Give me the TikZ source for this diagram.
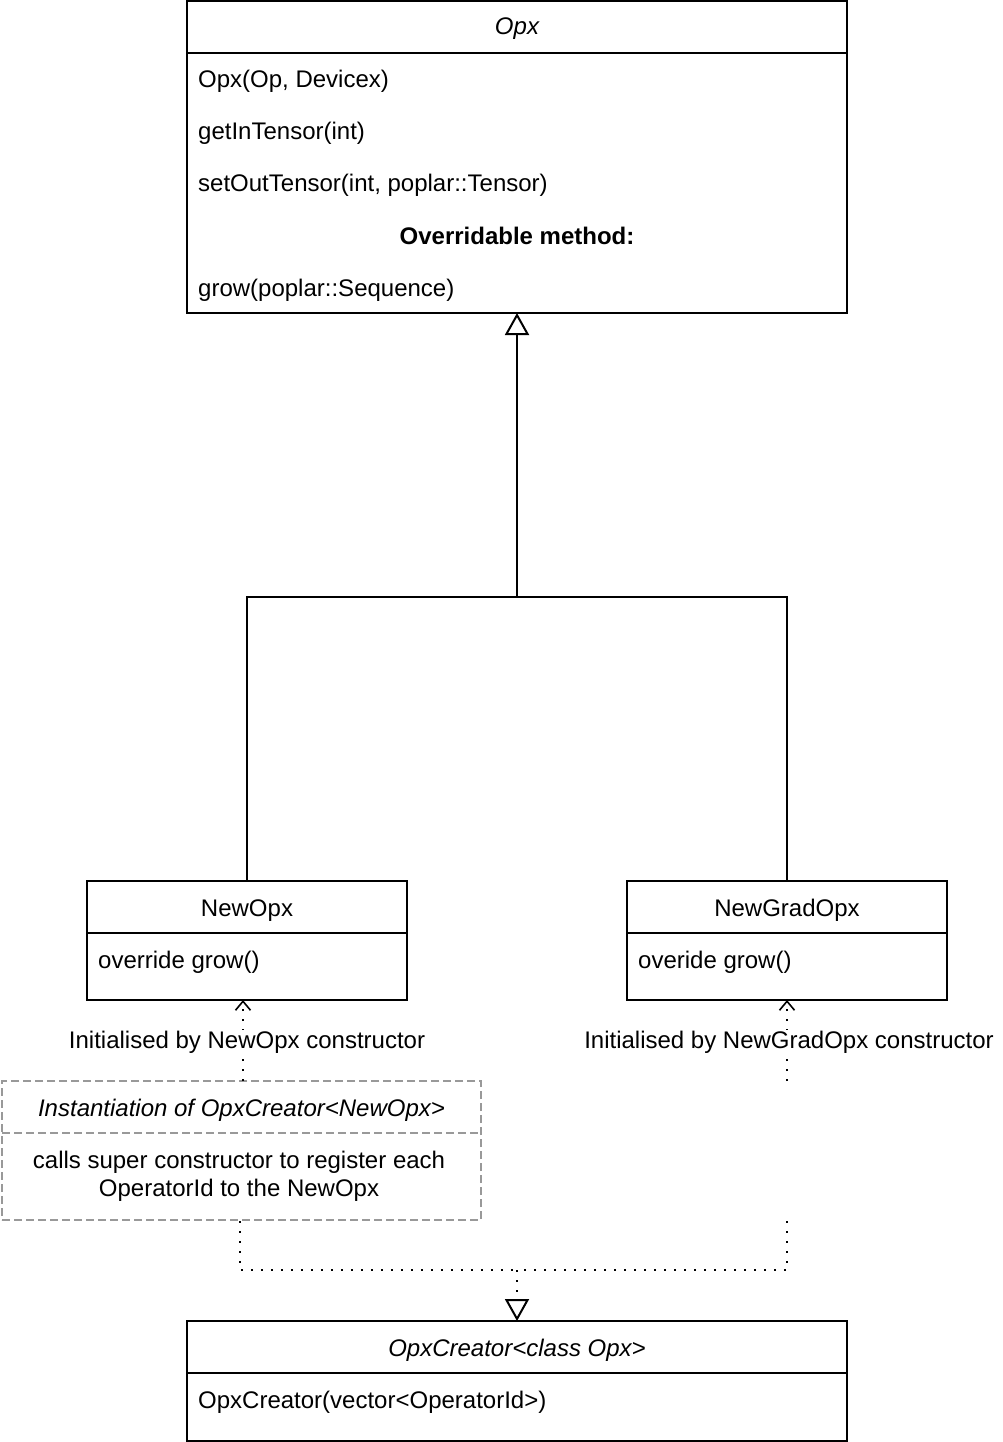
\documentclass[tikz,border=0pt]{standalone}
\usepackage{fontspec}
\setmainfont{Liberation Sans}
\usetikzlibrary{arrows.meta}
\definecolor{dgray}{HTML}{999999}
\begin{document}
\begin{tikzpicture}[x=1pt,y=-1pt,
  box/.style={draw, line width=2pt, inner sep=0pt, outer sep=0pt, anchor=north west},
  dbox/.style={draw=dgray, line width=2pt, dash pattern=on 8pt off 4pt, inner sep=0pt, outer sep=0pt, anchor=north west},
  sep/.style={line width=2pt},
  dsep/.style={draw=dgray, line width=2pt, dash pattern=on 8pt off 4pt},
  txt/.style={font=\fontsize{24}{28}\selectfont, inner sep=0pt, anchor=base west},
  ctxt/.style={font=\fontsize{24}{28}\selectfont, inner sep=0pt, anchor=base},
  inh/.style={line width=2pt, -{Triangle[open, length=22pt, width=24pt]}},
  dotl/.style={line width=2pt, dash pattern=on 2pt off 8pt},
  barb/.style={-{Straight Barb[length=9pt, width=15pt, line width=1.6pt]}},
  lbl/.style={font=\fontsize{24}{28}\selectfont, fill=white, inner sep=1pt}
]
\useasboundingbox (0,0) rectangle (1002,1442);

% Opx class
\node[box, minimum width=660pt, minimum height=312pt] (opx) at (187,1) {};
\draw[sep] (187,53) -- (847,53);
\node[ctxt] (opxt) at (517,35) {\itshape Opx};
\node[txt] (m1) at (198,88) {Opx(Op, Devicex)};
\node[txt] (m2) at (198,140) {getInTensor(int)};
\node[txt] (m3) at (198,192) {setOutTensor(int, poplar::Tensor)};
\node[ctxt] (m4) at (517,244) {\bfseries Overridable method:};
\node[txt] (m5) at (198,296) {grow(poplar::Sequence)};

% NewOpx
\node[box, minimum width=320pt, minimum height=119pt] (newopx) at (87,881) {};
\draw[sep] (87,933) -- (407,933);
\node[ctxt] (newopxt) at (247,916) {NewOpx};
\node[txt] (newopxm) at (98,968) {override grow()};

% NewGradOpx
\node[box, minimum width=320pt, minimum height=119pt] (newgrad) at (627,881) {};
\draw[sep] (627,933) -- (947,933);
\node[ctxt] (newgradt) at (787,916) {NewGradOpx};
\node[txt] (newgradm) at (638,968) {overide grow()};

% Instantiation box
\node[dbox, minimum width=479pt, minimum height=139pt] (inst) at (2,1081) {};
\draw[dsep] (2,1133) -- (481,1133);
\node[ctxt] (instt) at (241.5,1116) {\itshape Instantiation of OpxCreator<NewOpx>};
\node[ctxt] (instb1) at (239,1168) {calls super constructor to register each};
\node[ctxt] (instb2) at (239,1196) {OperatorId to the NewOpx};

% OpxCreator
\node[box, minimum width=660pt, minimum height=120pt] (creator) at (187,1321) {};
\draw[sep] (187,1373) -- (847,1373);
\node[ctxt] (creatort) at (517,1356) {\itshape OpxCreator<class Opx>};
\node[txt] (creatorm) at (198,1408) {OpxCreator(vector<OperatorId>)};

% inheritance Opx
\coordinate (jo) at (517,597);
\draw[line width=2pt] (newgrad.north) |- (jo);
\draw[inh] (newopx.north) |- (jo) -- (opx.south);

% initialised-by connectors
\coordinate (instTop) at (243,1081);
\coordinate (newopxBot) at (243,1000);
\draw[dotl, barb] (instTop) -- (newopxBot);
\node[lbl] (l1) at (247,1042) {Initialised by NewOpx constructor};

\coordinate (rsrc) at (787,1081);
\draw[dotl, barb] (rsrc) -- (newgrad.south);
\node[lbl] (l2) at (789,1042) {Initialised by NewGradOpx constructor};

% realisation OpxCreator
\coordinate (instBot) at (240,1221);
\coordinate (rbot) at (787,1221);
\coordinate (jc) at (517,1270);
\draw[dotl] (instBot) |- (jc);
\draw[dotl] (rbot) |- (jc);
\draw[dotl, -{Triangle[open, length=22pt, width=24pt, line width=2pt]}] (jc) -- (creator.north);
\end{tikzpicture}
\end{document}
